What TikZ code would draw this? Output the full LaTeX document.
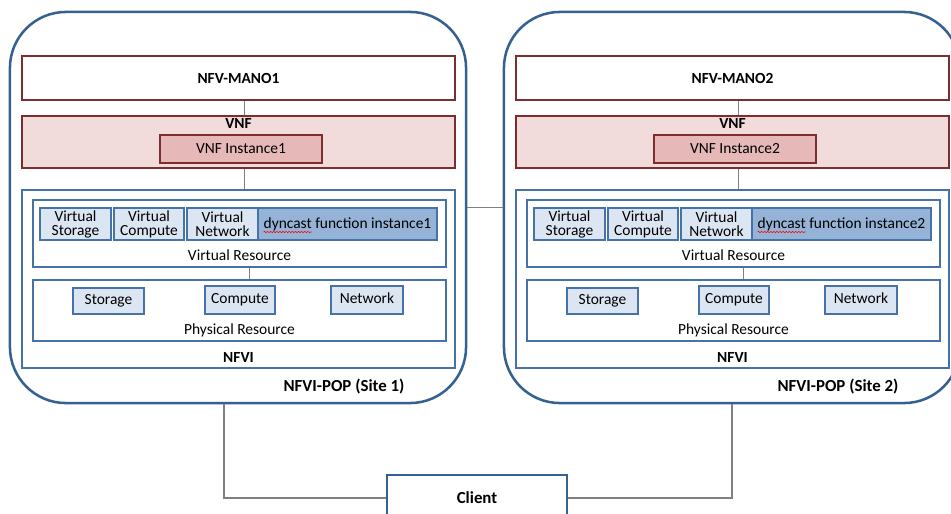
\documentclass[tikz,border=0pt]{standalone}
\usepackage{fontspec}
\setmainfont{Carlito}
\usepackage{tikz}
\usetikzlibrary{positioning,decorations.pathmorphing}
\definecolor{sitecol}{RGB}{52,96,146}
\definecolor{bluecol}{RGB}{69,114,167}
\definecolor{redcol}{RGB}{125,45,45}
\definecolor{vnfpink}{RGB}{242,220,219}
\definecolor{instpink}{RGB}{230,185,184}
\definecolor{resblue}{RGB}{220,230,242}
\definecolor{dynblue}{RGB}{149,179,215}
\definecolor{linkgray}{RGB}{128,128,128}
\tikzset{
  txt/.style={font=\fontsize{11}{13}\selectfont},
  bold/.style={font=\fontsize{11}{13}\selectfont\bfseries},
  sitebox/.style={draw=sitecol, line width=1.8pt, rounded corners=1.4cm},
  manobox/.style={draw=redcol, line width=1.1pt, fill=white, bold},
  vnfbox/.style={draw=redcol, line width=1.1pt, fill=vnfpink},
  instbox/.style={draw=redcol, line width=1.1pt, fill=instpink, txt},
  infbox/.style={draw=bluecol, line width=1pt, fill=white},
  resbox/.style={draw=bluecol, line width=1pt, fill=resblue, align=center,
    inner sep=1pt, font=\fontsize{11}{10}\selectfont},
  dynbox/.style={resbox, fill=dynblue},
  link/.style={draw=linkgray, line width=1.1pt},
}
\begin{document}
\begin{tikzpicture}[x=0.025cm,y=-0.025cm]
  \useasboundingbox (0,0) rectangle (951,513);
  \clip (0,0) rectangle (951,513);
  %the two sites
  \foreach \i/\off in {1/0,2/494}{
    %outer site
      \node[sitebox, minimum width=11.4cm, minimum height=9.775cm] (site\i) at (238+\off,207.5) {};
      \node[bold, font=\fontsize{12}{14}\selectfont\bfseries] (pop\i) at (344+\off,387) {NFVI-POP (Site \i)};
    %mano and vnf
      \node[manobox, minimum width=10.825cm, minimum height=1.1cm] (mano\i) at (238.5+\off,78) {NFV-MANO\i};
      \node[vnfbox, minimum width=10.825cm, minimum height=1.3cm,
        label={[bold, anchor=north, inner sep=2pt]north:VNF}] (vnf\i) at (238.5+\off,142) {};
      \node[instbox, minimum width=4.05cm, minimum height=0.7cm] (inst\i) at (241+\off,149) {VNF Instance\i};
    %nfvi
      \node[infbox, minimum width=10.825cm, minimum height=4.45cm,
        label={[bold, anchor=south, inner sep=4pt]south:NFVI}] (nfvi\i) at (238.5+\off,279) {};
      \node[infbox, minimum width=10.325cm, minimum height=1.675cm,
        label={[txt, anchor=south, inner sep=5pt]south:Virtual Resource}] (vres\i) at (239.5+\off,233.5) {};
      \node[resbox, minimum width=1.775cm, minimum height=0.8cm] (vstor\i) at (75.5+\off,224) {Virtual\\Storage};
      \node[resbox, minimum width=1.75cm, minimum height=0.8cm] (vcomp\i) at (149+\off,224) {Virtual\\Compute};
      \node[resbox, minimum width=1.775cm, minimum height=0.8cm] (vnet\i) at (222.5+\off,224) {Virtual\\Network};
      \node[dynbox, minimum width=4.475cm, minimum height=0.8cm] (dync\i) at (347.5+\off,224) {dyncast function instance\i};
      \draw[red, line width=0.4pt, decorate, decoration={snake, amplitude=0.45pt, segment length=2.2pt}]
        ([shift={(-84,8)}]dync\i.center) -- ([shift={(-36,8)}]dync\i.center);
      \node[infbox, minimum width=10.325cm, minimum height=1.525cm,
        label={[txt, anchor=south, inner sep=3pt]south:Physical Resource}] (pres\i) at (239.5+\off,310.5) {};
      \node[resbox, txt, minimum width=1.775cm, minimum height=0.65cm] (stor\i) at (108.5+\off,301) {Storage};
      \node[resbox, txt, minimum width=1.75cm, minimum height=0.7cm] (comp\i) at (240+\off,300) {Compute};
      \node[resbox, txt, minimum width=1.8cm, minimum height=0.7cm] (net\i) at (367+\off,300) {\raisebox{2pt}{Network}};
    %links inside a site
      \draw[link] ([xshift=0.15cm]mano\i.south) -- ([xshift=0.15cm]vnf\i.north);
      \draw[link] ([xshift=0.15cm]vnf\i.south) -- ([xshift=0.15cm]nfvi\i.north);
      \draw[link] ([xshift=0.25cm]vres\i.south) -- ([xshift=0.25cm]vres\i.south |- pres\i.north);
  }
  %client
    \node[draw=sitecol, line width=1.1pt, fill=white, bold, font=\fontsize{12}{14}\selectfont\bfseries,
      minimum width=4.5cm, minimum height=1.15cm] (client) at (477,498) {Client};
  %links between sites and client
    \draw[link] (site1) -- (site2);
    \draw[link] ([xshift=-0.35cm]site1.south) |- (client.west);
    \draw[link] (site2.south) |- (client.east);
\end{tikzpicture}
\end{document}
